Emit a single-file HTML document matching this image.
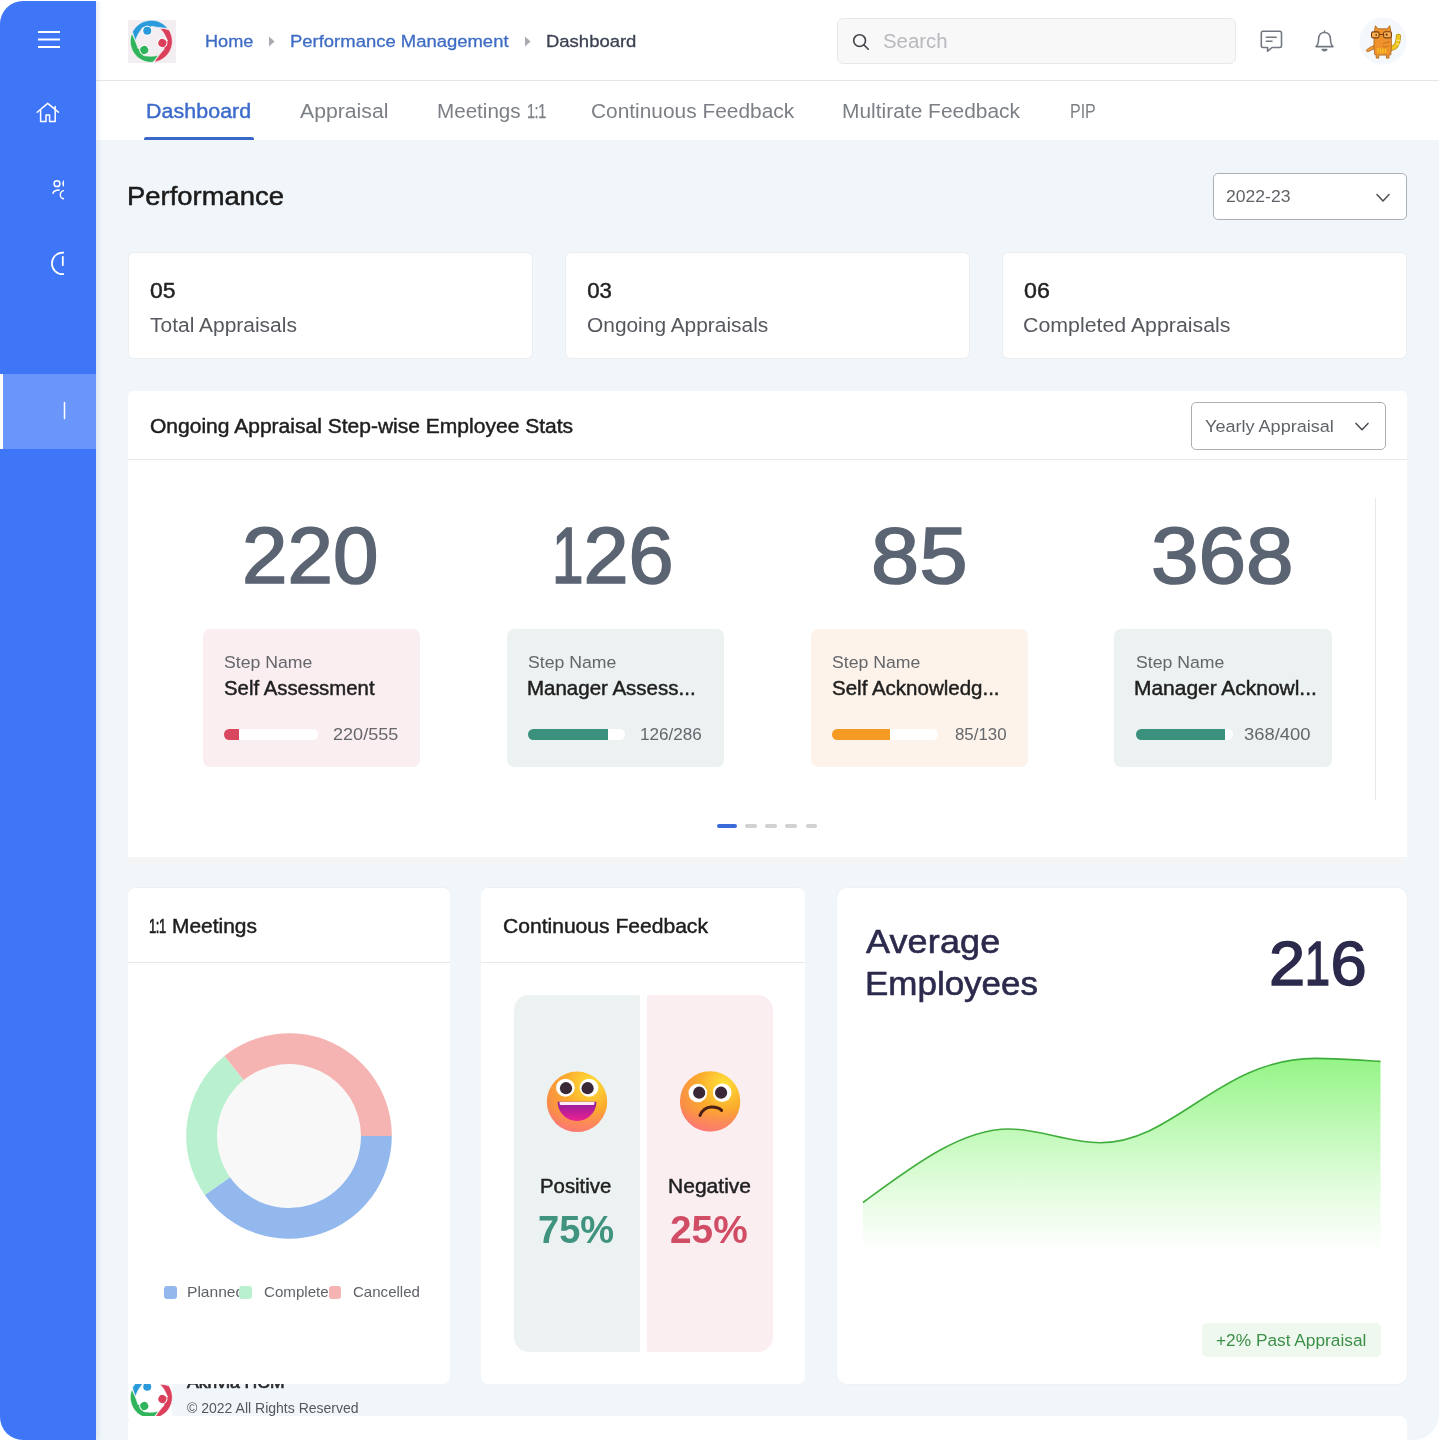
<!DOCTYPE html>
<html lang="en"><head><meta charset="utf-8"><title>Performance Dashboard</title>
<style>
html,body{margin:0;padding:0;background:#fff;}
body{width:1439px;height:1440px;overflow:hidden;position:relative;font-family:"Liberation Sans", sans-serif;}
#page{position:absolute;left:0;top:1px;width:1439px;height:1439px;overflow:hidden;border-radius:23px 0 26px 23px;background:#fff;}
#in{position:absolute;left:0;top:-1px;width:1439px;height:1440px;}
.b{position:absolute;display:block;}
.clip{position:absolute;overflow:hidden;}
.t{position:absolute;white-space:nowrap;line-height:1;transform-origin:0 0;font-family:"Liberation Sans", sans-serif;}
</style></head><body>
<div id="page"><div id="in">
<div class="b" style="left:96px;top:0px;width:1343px;height:1440px;background:#F1F6FA;"></div>
<div class="b" style="left:96px;top:0px;width:1343px;height:80px;background:#fff;"></div>
<div class="b" style="left:96px;top:80px;width:1343px;height:1px;background:#E4E6EA;"></div>
<div class="b" style="left:96px;top:81px;width:1343px;height:59px;background:#fff;"></div>
<div class="b" style="left:0px;top:0px;width:96px;height:1440px;background:#3F76F8;box-shadow:2px 0 5px rgba(90,120,180,.16);"></div>
<div class="b" style="left:0px;top:373.5px;width:96px;height:75.0px;background:#6B96F9;"></div>
<div class="b" style="left:0px;top:373.5px;width:3px;height:75.0px;background:#fff;"></div>
<svg class="b" style="left:0;top:0" width="96" height="460" viewBox="0 0 96 460" fill="none" stroke="#fff" stroke-linecap="round" stroke-linejoin="round">
<g stroke-width="1.9" stroke-linecap="butt"><path d="M38 32H60M38 39.5H60M38 47H60"/></g>
<g stroke-width="1.5"><path d="M37.2 112.2L47.7 103.4L58.4 112.2"/><path d="M40.6 110V121.5H46V115H49.6V121.5H55.2V106.4"/></g>
<clipPath id="sc"><rect x="0" y="0" width="64" height="460"/></clipPath>
<g clip-path="url(#sc)" stroke-width="1.5">
<circle cx="57" cy="183.7" r="2.9"/><circle cx="66.6" cy="183.5" r="3.6" fill="#fff"/>
<path d="M53 193.2C53.6 191 56 190 59.2 190"/><circle cx="64.4" cy="194.7" r="4.1"/>
<circle cx="62.7" cy="263.4" r="10.8" stroke-width="1.7"/><path d="M62.8 256.8V265.2" stroke-width="1.8"/>
</g>
<path d="M64.5 402.5V418.5" stroke-width="1.5"/>
</svg>
<div class="b" style="left:128px;top:20.3px;width:47.80000000000001px;height:42.7px;background:#F3EEF1;"></div>
<svg class="b" style="left:130.4px;top:20.0px" width="42.6" height="42.6" viewBox="-21 -21 42 42"><g transform="rotate(0)"><path d="M16.3,-12.7 A20.7,20.7 0 0 0 -18.5,-9.3 L-17.3,-5 L-15.5,-0.9 C-14.3,-5 -12.4,-8.4 -10.3,-11 C-9.5,-12.3 -9,-13 -8.2,-13.8 L-4,-10.3 L0.3,-14.9 C3.5,-14.3 7,-13.6 10,-13.3 C12,-13.1 14,-12.9 16.3,-12.7Z" fill="#2B9ADB" stroke="#fff" stroke-width=".5" stroke-linejoin="round"/><circle cx="-4" cy="-10.3" r="5" fill="#fff"/><circle cx="-4" cy="-10.3" r="3.95" fill="#2B9ADB"/></g><g transform="rotate(120)"><path d="M16.3,-12.7 A20.7,20.7 0 0 0 -18.5,-9.3 L-17.3,-5 L-15.5,-0.9 C-14.3,-5 -12.4,-8.4 -10.3,-11 C-9.5,-12.3 -9,-13 -8.2,-13.8 L-4,-10.3 L0.3,-14.9 C3.5,-14.3 7,-13.6 10,-13.3 C12,-13.1 14,-12.9 16.3,-12.7Z" fill="#DB3F5C" stroke="#fff" stroke-width=".5" stroke-linejoin="round"/><circle cx="-4" cy="-10.3" r="5" fill="#fff"/><circle cx="-4" cy="-10.3" r="3.95" fill="#DB3F5C"/></g><g transform="rotate(240)"><path d="M16.3,-12.7 A20.7,20.7 0 0 0 -18.5,-9.3 L-17.3,-5 L-15.5,-0.9 C-14.3,-5 -12.4,-8.4 -10.3,-11 C-9.5,-12.3 -9,-13 -8.2,-13.8 L-4,-10.3 L0.3,-14.9 C3.5,-14.3 7,-13.6 10,-13.3 C12,-13.1 14,-12.9 16.3,-12.7Z" fill="#2FB45C" stroke="#fff" stroke-width=".5" stroke-linejoin="round"/><circle cx="-4" cy="-10.3" r="5" fill="#fff"/><circle cx="-4" cy="-10.3" r="3.95" fill="#2FB45C"/></g></svg>
<div class="t" style="left:204.60px;top:32.75px;font-size:17.2px;color:#3E6CC4;letter-spacing:0.000px;-webkit-text-stroke:0.3px #3E6CC4;transform:scaleX(1.0545);">Home</div>
<svg class="b" style="left:267.5px;top:35.5px" width="8" height="11" viewBox="0 0 8 11"><path d="M1 0.5L6.6 5.5L1 10.5Z" fill="#A9ADB3"/></svg>
<div class="t" style="left:289.58px;top:32.75px;font-size:17.2px;color:#3E6CC4;letter-spacing:0.000px;-webkit-text-stroke:0.3px #3E6CC4;transform:scaleX(1.0739);">Performance Management</div>
<svg class="b" style="left:523.5px;top:35.5px" width="8" height="11" viewBox="0 0 8 11"><path d="M1 0.5L6.6 5.5L1 10.5Z" fill="#A9ADB3"/></svg>
<div class="t" style="left:546.08px;top:32.75px;font-size:17.2px;color:#3B4252;letter-spacing:0.000px;-webkit-text-stroke:0.3px #3B4252;transform:scaleX(1.0748);">Dashboard</div>
<div class="b" style="left:837px;top:17.7px;width:399px;height:46.599999999999994px;background:#F8F8F8;border:1px solid #E8E8E8;border-radius:6px;box-sizing:border-box;"></div>
<svg class="b" style="left:850px;top:31px" width="22" height="22" viewBox="850 31 22 22" fill="none" stroke="#3F4247" stroke-width="1.6" stroke-linecap="round"><circle cx="859.6" cy="40.6" r="5.9"/><path d="M864 45L868.3 49.2"/></svg>
<div class="t" style="left:882.80px;top:31.90px;font-size:19.6px;color:#B7B9BF;letter-spacing:0.000px;transform:scaleX(1.0411);">Search</div>
<svg class="b" style="left:1256px;top:27px" width="30" height="28" viewBox="1256 27 30 28" fill="none" stroke="#747881" stroke-width="1.6" stroke-linejoin="round" stroke-linecap="round"><path d="M1263 31.3H1279.8Q1281.5 31.3 1281.5 33V45.8Q1281.5 47.5 1279.8 47.5H1272L1267.6 51.2V47.5H1263Q1261.3 47.5 1261.3 45.8V33Q1261.3 31.3 1263 31.3Z"/><path d="M1266.3 37.3H1276.2M1266.3 41.3H1272"/></svg>
<svg class="b" style="left:1311px;top:27px" width="28" height="28" viewBox="1311 27 28 28" fill="none" stroke="#747881" stroke-width="1.6" stroke-linejoin="round" stroke-linecap="round"><path d="M1324.5 31V32.4M1316 46.6C1318.6 44.6 1318.4 41.5 1318.6 38.6C1318.9 34.8 1321.4 32.5 1324.5 32.5C1327.6 32.5 1330.1 34.8 1330.4 38.6C1330.6 41.5 1330.4 44.6 1333 46.6Z"/><path d="M1322.2 49.6Q1324.5 51.6 1326.8 49.6Z" fill="#747881"/></svg>
<svg class="b" style="left:1359px;top:16.5px" width="48" height="48" viewBox="1359 16.5 48 48">
<circle cx="1383" cy="40.6" r="23.6" fill="#F4F7FB"/>
<path d="M1391 47.6C1395.5 47.6 1398.4 43 1398.4 35.8" fill="none" stroke="#B48A14" stroke-width="5.2" stroke-linecap="round"/>
<path d="M1391 47.6C1395.5 47.6 1398.4 43 1398.4 35.8" fill="none" stroke="#EFC61F" stroke-width="3.8" stroke-linecap="round"/>
<path d="M1396.4 39.6L1400.4 40.2M1395.8 43L1399.4 44.2" stroke="#FAE27A" stroke-width="1.1"/>
<path d="M1374.3 45C1371.5 46 1368.5 47.6 1366.6 49.4C1366 50.6 1367.4 51.6 1368.6 51C1370.6 49.8 1372.6 48.8 1375 48Z" fill="#F09A32" stroke="#A8621C" stroke-width=".8"/>
<path d="M1374.6 29.5L1375.4 25.2L1378 28.3H1387.2L1389.7 25.2L1390.6 29.5C1391.6 37 1391.8 46 1390.8 54.3H1389V57.6H1386.4V54.6H1378.8V57.6H1376.2V54.3H1374.8C1373.6 46 1373.8 37 1374.6 29.5Z" fill="#F0922C" stroke="#A8621C" stroke-width=".8" stroke-linejoin="round"/>
<path d="M1378 52V47.5M1380.5 53V48M1383 53V48M1385.5 52.5V48" stroke="#F5C21E" stroke-width="1.4"/>
<rect x="1371.5" y="31.4" width="7.6" height="6" rx="1.6" fill="#F6B052" stroke="#7A3C10" stroke-width="1.1"/>
<rect x="1383.6" y="31.2" width="7.8" height="6.2" rx="1.6" fill="#F6B052" stroke="#7A3C10" stroke-width="1.1"/>
<path d="M1379.1 34H1383.6" stroke="#7A3C10" stroke-width="1"/>
<circle cx="1376.2" cy="34.4" r=".9" fill="#7A3C10"/><circle cx="1386.6" cy="34.2" r="1.1" fill="#7A3C10"/>
<path d="M1383 43.5C1385 42 1388 41 1390 41.5M1383 46C1385 47 1387 46.5 1388.5 45" stroke="#B86A1C" stroke-width=".8" fill="none"/>
</svg>
<div class="t" style="left:146.11px;top:101.50px;font-size:19.6px;color:#3D6BCB;letter-spacing:0.079px;-webkit-text-stroke:0.4px #3D6BCB;transform:scaleX(1.0900);">Dashboard</div>
<div class="t" style="left:300.00px;top:101.50px;font-size:19.6px;color:#7C8086;letter-spacing:0.000px;transform:scaleX(1.0820);">Appraisal</div>
<div class="t" style="left:436.75px;top:101.50px;font-size:19.6px;color:#7C8086;letter-spacing:-0.000px;transform:scaleX(1.0520);">Meetings</div>
<div class="t" style="left:526.59px;top:101.50px;font-size:19.6px;color:#7C8086;letter-spacing:-0.600px;-webkit-text-stroke:0.25px #7C8086;transform:scaleX(0.7400);">1:1</div>
<div class="t" style="left:590.63px;top:101.50px;font-size:19.6px;color:#7C8086;letter-spacing:0.000px;transform:scaleX(1.0657);">Continuous Feedback</div>
<div class="t" style="left:842.43px;top:101.50px;font-size:19.6px;color:#7C8086;letter-spacing:-0.000px;transform:scaleX(1.0686);">Multirate Feedback</div>
<div class="t" style="left:1069.58px;top:101.50px;font-size:19.6px;color:#7C8086;letter-spacing:0.000px;transform:scaleX(0.8161);">PIP</div>
<div class="b" style="left:144px;top:136.8px;width:110px;height:3.1999999999999886px;background:#3A69C8;border-radius:2px 2px 0 0;"></div>
<div class="t" style="left:127.11px;top:184.30px;font-size:25.6px;color:#1B1B1B;letter-spacing:0.000px;-webkit-text-stroke:0.5px #1B1B1B;transform:scaleX(1.0708);">Performance</div>
<div class="b" style="left:1213px;top:173px;width:193.79999999999995px;height:47px;background:#fff;border:1.2px solid #ABAEB3;border-radius:5px;box-sizing:border-box;"></div>
<div class="t" style="left:1226.30px;top:187.80px;font-size:17.2px;color:#5F6368;letter-spacing:0.000px;transform:scaleX(1.0221);">2022-23</div>
<svg class="b" style="left:1374px;top:190px" width="18" height="14" viewBox="1374 190 18 14" fill="none" stroke="#4A4D52" stroke-width="1.5" stroke-linecap="round" stroke-linejoin="round"><path d="M1377 194.6L1383 201L1389 194.6"/></svg>
<div class="b" style="left:128.5px;top:253.3px;width:403.5px;height:105.0px;background:#fff;border-radius:5px;box-shadow:0 0 0 1px #ECEDEF;"></div>
<div class="t" style="left:149.92px;top:279.60px;font-size:22.2px;color:#222;letter-spacing:0.000px;-webkit-text-stroke:0.45px #222;transform:scaleX(1.0333);">05</div>
<div class="t" style="left:149.70px;top:315.80px;font-size:19.6px;color:#55585E;letter-spacing:0.000px;transform:scaleX(1.0706);">Total Appraisals</div>
<div class="b" style="left:565.7px;top:253.3px;width:403.29999999999995px;height:105.0px;background:#fff;border-radius:5px;box-shadow:0 0 0 1px #ECEDEF;"></div>
<div class="t" style="left:587.13px;top:279.60px;font-size:22.2px;color:#222;letter-spacing:0.000px;-webkit-text-stroke:0.45px #222;">03</div>
<div class="t" style="left:586.90px;top:315.80px;font-size:19.6px;color:#55585E;letter-spacing:0.000px;transform:scaleX(1.0665);">Ongoing Appraisals</div>
<div class="b" style="left:1002.7px;top:253.3px;width:403.29999999999995px;height:105.0px;background:#fff;border-radius:5px;box-shadow:0 0 0 1px #ECEDEF;"></div>
<div class="t" style="left:1024.12px;top:279.60px;font-size:22.2px;color:#222;letter-spacing:0.000px;-webkit-text-stroke:0.45px #222;transform:scaleX(1.0456);">06</div>
<div class="t" style="left:1022.81px;top:315.80px;font-size:19.6px;color:#55585E;letter-spacing:0.000px;transform:scaleX(1.0886);">Completed Appraisals</div>
<div class="b" style="left:128px;top:391.3px;width:1279px;height:472.7px;background:#F5F5F5;border-radius:5px;"></div>
<div class="b" style="left:128px;top:391.3px;width:1279px;height:465.7px;background:#fff;border-radius:5px 5px 0 0;"></div>
<div class="b" style="left:128px;top:459px;width:1279px;height:1px;background:#E6E8EB;"></div>
<div class="t" style="left:149.72px;top:417.20px;font-size:19.6px;color:#1E1E1E;letter-spacing:0.000px;-webkit-text-stroke:0.45px #1E1E1E;transform:scaleX(1.0731);">Ongoing Appraisal Step-wise Employee Stats</div>
<div class="b" style="left:1191.2px;top:402px;width:194.79999999999995px;height:47.80000000000001px;background:#fff;border:1.2px solid #ABAEB3;border-radius:5px;box-sizing:border-box;"></div>
<div class="t" style="left:1205.00px;top:417.80px;font-size:17.2px;color:#5F6368;letter-spacing:0.000px;transform:scaleX(1.0509);">Yearly Appraisal</div>
<svg class="b" style="left:1353px;top:419px" width="18" height="14" viewBox="1353 419 18 14" fill="none" stroke="#4A4D52" stroke-width="1.5" stroke-linecap="round" stroke-linejoin="round"><path d="M1356 423.4L1362 429.8L1368 423.4"/></svg>
<div class="b" style="left:1375.3px;top:498px;width:1.0px;height:302px;background:#E6E8EB;"></div>
<div class="t" style="left:241.73px;top:515.60px;font-size:79.4px;color:#5B6472;letter-spacing:0.000px;-webkit-text-stroke:1.7px #5B6472;transform:scaleX(1.0292);">220</div>
<div class="b" style="left:202.7px;top:629.2px;width:217.7px;height:138.29999999999995px;background:#FBEEF1;border-radius:7px;"></div>
<div class="t" style="left:224.10px;top:654.30px;font-size:17.2px;color:#63666B;letter-spacing:0.000px;transform:scaleX(1.0267);">Step Name</div>
<div class="t" style="left:223.82px;top:678.60px;font-size:19.6px;color:#1F1F1F;letter-spacing:0.000px;-webkit-text-stroke:0.45px #1F1F1F;transform:scaleX(1.0394);">Self Assessment</div>
<div class="b" style="left:224px;top:729.3px;width:93.5px;height:10.300000000000068px;background:#fff;border-radius:5.2px;overflow:hidden;"><div style="position:absolute;left:0;top:0;height:100%;width:15px;background:#D9475F"></div></div>
<div class="t" style="left:333.30px;top:726.20px;font-size:17.2px;color:#64676C;letter-spacing:0.000px;transform:scaleX(1.0508);">220/555</div>
<div class="t" style="left:552.03px;top:515.60px;font-size:79.4px;color:#5B6472;letter-spacing:0.000px;-webkit-text-stroke:1.7px #5B6472;transform:scaleX(1.0203);"><span style="display:inline-block;transform:scaleX(0.7);transform-origin:0 0;margin-right:-13.24px">1</span>26</div>
<div class="b" style="left:506.5px;top:629.2px;width:217.70000000000005px;height:138.29999999999995px;background:#EBF2F1;border-radius:7px;"></div>
<div class="t" style="left:527.90px;top:654.30px;font-size:17.2px;color:#63666B;letter-spacing:0.000px;transform:scaleX(1.0267);">Step Name</div>
<div class="t" style="left:526.58px;top:678.60px;font-size:19.6px;color:#1F1F1F;letter-spacing:0.000px;-webkit-text-stroke:0.45px #1F1F1F;transform:scaleX(1.0459);">Manager Assess...</div>
<div class="b" style="left:527.7px;top:729.3px;width:97.29999999999995px;height:10.300000000000068px;background:#fff;border-radius:5.2px;overflow:hidden;"><div style="position:absolute;left:0;top:0;height:100%;width:80.29999999999995px;background:#3B917E"></div></div>
<div class="t" style="left:640.31px;top:726.20px;font-size:17.2px;color:#64676C;letter-spacing:0.000px;transform:scaleX(0.9939);">126/286</div>
<div class="t" style="left:871.08px;top:515.60px;font-size:79.4px;color:#5B6472;letter-spacing:0.232px;-webkit-text-stroke:1.7px #5B6472;transform:scaleX(1.0900);">85</div>
<div class="b" style="left:810.5px;top:629.2px;width:217.70000000000005px;height:138.29999999999995px;background:#FDF3EA;border-radius:7px;"></div>
<div class="t" style="left:831.90px;top:654.30px;font-size:17.2px;color:#63666B;letter-spacing:0.000px;transform:scaleX(1.0267);">Step Name</div>
<div class="t" style="left:831.62px;top:678.60px;font-size:19.6px;color:#1F1F1F;letter-spacing:0.000px;-webkit-text-stroke:0.45px #1F1F1F;transform:scaleX(1.0464);">Self Acknowledg...</div>
<div class="b" style="left:831.7px;top:729.3px;width:106.29999999999995px;height:10.300000000000068px;background:#fff;border-radius:5.2px;overflow:hidden;"><div style="position:absolute;left:0;top:0;height:100%;width:58.299999999999955px;background:#F59A23"></div></div>
<div class="t" style="left:954.50px;top:726.20px;font-size:17.2px;color:#64676C;letter-spacing:0.000px;transform:scaleX(0.9806);">85/130</div>
<div class="t" style="left:1151.32px;top:515.60px;font-size:79.4px;color:#5B6472;letter-spacing:0.000px;-webkit-text-stroke:1.7px #5B6472;transform:scaleX(1.0760);">368</div>
<div class="b" style="left:1114.3px;top:629.2px;width:217.70000000000005px;height:138.29999999999995px;background:#EBF2F1;border-radius:7px;"></div>
<div class="t" style="left:1135.70px;top:654.30px;font-size:17.2px;color:#63666B;letter-spacing:0.000px;transform:scaleX(1.0267);">Step Name</div>
<div class="t" style="left:1134.36px;top:678.60px;font-size:19.6px;color:#1F1F1F;letter-spacing:-0.000px;-webkit-text-stroke:0.45px #1F1F1F;transform:scaleX(1.0691);">Manager Acknowl...</div>
<div class="b" style="left:1135.7px;top:729.3px;width:97.79999999999995px;height:10.300000000000068px;background:#fff;border-radius:5.2px;overflow:hidden;"><div style="position:absolute;left:0;top:0;height:100%;width:89.59999999999991px;background:#3B917E"></div></div>
<div class="t" style="left:1243.50px;top:726.20px;font-size:17.2px;color:#64676C;letter-spacing:0.000px;transform:scaleX(1.0720);">368/400</div>
<div class="b" style="left:717px;top:823.6px;width:20px;height:4.899999999999977px;background:#3B6BDB;border-radius:2.5px;"></div>
<div class="b" style="left:745.2px;top:824.4px;width:11.799999999999955px;height:3.5px;background:#D2D2D2;border-radius:1.7px;"></div>
<div class="b" style="left:765.3px;top:824.4px;width:11.799999999999955px;height:3.5px;background:#D2D2D2;border-radius:1.7px;"></div>
<div class="b" style="left:785.4px;top:824.4px;width:11.799999999999955px;height:3.5px;background:#D2D2D2;border-radius:1.7px;"></div>
<div class="b" style="left:805.5px;top:824.4px;width:11.799999999999955px;height:3.5px;background:#D2D2D2;border-radius:1.7px;"></div>
<div class="b" style="left:128px;top:1375px;width:44px;height:44px;background:#fff;"></div>
<svg class="b" style="left:130.4px;top:1375.7px" width="42.6" height="42.6" viewBox="-21 -21 42 42"><g transform="rotate(0)"><path d="M16.3,-12.7 A20.7,20.7 0 0 0 -18.5,-9.3 L-17.3,-5 L-15.5,-0.9 C-14.3,-5 -12.4,-8.4 -10.3,-11 C-9.5,-12.3 -9,-13 -8.2,-13.8 L-4,-10.3 L0.3,-14.9 C3.5,-14.3 7,-13.6 10,-13.3 C12,-13.1 14,-12.9 16.3,-12.7Z" fill="#2B9ADB" stroke="#fff" stroke-width=".5" stroke-linejoin="round"/><circle cx="-4" cy="-10.3" r="5" fill="#fff"/><circle cx="-4" cy="-10.3" r="3.95" fill="#2B9ADB"/></g><g transform="rotate(120)"><path d="M16.3,-12.7 A20.7,20.7 0 0 0 -18.5,-9.3 L-17.3,-5 L-15.5,-0.9 C-14.3,-5 -12.4,-8.4 -10.3,-11 C-9.5,-12.3 -9,-13 -8.2,-13.8 L-4,-10.3 L0.3,-14.9 C3.5,-14.3 7,-13.6 10,-13.3 C12,-13.1 14,-12.9 16.3,-12.7Z" fill="#DB3F5C" stroke="#fff" stroke-width=".5" stroke-linejoin="round"/><circle cx="-4" cy="-10.3" r="5" fill="#fff"/><circle cx="-4" cy="-10.3" r="3.95" fill="#DB3F5C"/></g><g transform="rotate(240)"><path d="M16.3,-12.7 A20.7,20.7 0 0 0 -18.5,-9.3 L-17.3,-5 L-15.5,-0.9 C-14.3,-5 -12.4,-8.4 -10.3,-11 C-9.5,-12.3 -9,-13 -8.2,-13.8 L-4,-10.3 L0.3,-14.9 C3.5,-14.3 7,-13.6 10,-13.3 C12,-13.1 14,-12.9 16.3,-12.7Z" fill="#2FB45C" stroke="#fff" stroke-width=".5" stroke-linejoin="round"/><circle cx="-4" cy="-10.3" r="5" fill="#fff"/><circle cx="-4" cy="-10.3" r="3.95" fill="#2FB45C"/></g></svg>
<div class="t" style="left:187.35px;top:1373.60px;font-size:17.2px;color:#2A2A2A;letter-spacing:0.000px;-webkit-text-stroke:0.7px #2A2A2A;transform:scaleX(1.0226);">Akrivia HCM</div>
<div class="t" style="left:186.70px;top:1401.20px;font-size:14.6px;color:#55585D;letter-spacing:0.000px;transform:scaleX(0.9606);">© 2022 All Rights Reserved</div>
<div class="b" style="left:128px;top:887.7px;width:322px;height:496.70000000000005px;background:#fff;border-radius:7px;box-shadow:0 -1px 0 0 #F0F0F0;"></div>
<div class="b" style="left:128px;top:961.7px;width:322px;height:1.0px;background:#E6E8EB;"></div>
<div class="t" style="left:149.29px;top:916.50px;font-size:19.6px;color:#1E1E1E;letter-spacing:-0.600px;-webkit-text-stroke:0.7px #1E1E1E;transform:scaleX(0.6600);">1:1</div>
<div class="t" style="left:171.66px;top:916.50px;font-size:19.6px;color:#1E1E1E;letter-spacing:0.000px;-webkit-text-stroke:0.45px #1E1E1E;transform:scaleX(1.0679);">Meetings</div>
<svg class="b" style="left:180px;top:1028px" width="220" height="220" viewBox="180 1028 220 220"><circle cx="289" cy="1136" r="73" fill="#F8F8F8"/><path d="M391.80,1136.00 A102.8,102.8 0 0 1 204.79,1194.96 L230.02,1177.30 A72,72 0 0 0 361.00,1136.00Z" fill="#92B8EE"/><path d="M204.79,1194.96 A102.8,102.8 0 0 1 224.31,1056.11 L243.69,1080.05 A72,72 0 0 0 230.02,1177.30Z" fill="#B9F0CF"/><path d="M224.31,1056.11 A102.8,102.8 0 0 1 391.80,1136.00 L361.00,1136.00 A72,72 0 0 0 243.69,1080.05Z" fill="#F5B3B1"/></svg>
<div class="b" style="left:163.7px;top:1286px;width:12.900000000000006px;height:12.599999999999909px;background:#92B8EE;border-radius:3px;"></div>
<div class="clip" style="left:180px;top:1280px;width:59.40px;height:26.00px"><div class="t" style="left:6.73px;top:5.40px;font-size:14.6px;color:#5F6368;letter-spacing:-0.000px;transform:scaleX(1.0679);">Planned</div></div>
<div class="b" style="left:239.4px;top:1286px;width:12.900000000000006px;height:12.599999999999909px;background:#B9F0CF;border-radius:3px;"></div>
<div class="clip" style="left:255px;top:1280px;width:73.50px;height:26.00px"><div class="t" style="left:8.50px;top:5.40px;font-size:14.6px;color:#5F6368;letter-spacing:0.000px;transform:scaleX(1.0347);">Completed</div></div>
<div class="b" style="left:328.5px;top:1286px;width:12.899999999999977px;height:12.599999999999909px;background:#F5B3B1;border-radius:3px;"></div>
<div class="t" style="left:353.00px;top:1285.40px;font-size:14.6px;color:#5F6368;letter-spacing:0.000px;transform:scaleX(1.0311);">Cancelled</div>
<div class="b" style="left:481.3px;top:887.7px;width:323.7px;height:496.70000000000005px;background:#fff;border-radius:7px;box-shadow:0 -1px 0 0 #F0F0F0;"></div>
<div class="b" style="left:481.3px;top:961.7px;width:323.7px;height:1.0px;background:#E6E8EB;"></div>
<div class="t" style="left:502.95px;top:916.50px;font-size:19.6px;color:#1E1E1E;letter-spacing:0.000px;-webkit-text-stroke:0.45px #1E1E1E;transform:scaleX(1.0750);">Continuous Feedback</div>
<div class="b" style="left:514.3px;top:994.5px;width:125.5px;height:357.20000000000005px;background:#EBF2F1;border-radius:15px 2px 2px 15px;"></div>
<div class="b" style="left:647.3px;top:994.5px;width:125.5px;height:357.20000000000005px;background:#FBEEF1;border-radius:2px 15px 15px 2px;"></div>
<svg class="b" style="left:545px;top:1069px" width="64" height="66" viewBox="545 1069 64 66">
<defs><radialGradient id="fg" cx="0.72" cy="0.22" r="0.95"><stop offset="0" stop-color="#FFE23A"/><stop offset=".45" stop-color="#FBAA2C"/><stop offset=".8" stop-color="#F98E48"/><stop offset="1" stop-color="#FF7480"/></radialGradient>
<linearGradient id="pk" x1="0" y1="0" x2="0" y2="1"><stop offset=".62" stop-color="#FF6F8A" stop-opacity="0"/><stop offset="1" stop-color="#FF6F8A" stop-opacity=".55"/></linearGradient>
<linearGradient id="mg" x1="0" y1="0" x2="0" y2="1"><stop offset="0" stop-color="#8E1C9E"/><stop offset="1" stop-color="#EC2191"/></linearGradient>
<clipPath id="mc"><path d="M557.6 1101.8H596.4C596.4 1112.6 587.8 1120.9 577 1120.9C566.2 1120.9 557.6 1112.6 557.6 1101.8Z"/></clipPath></defs>
<circle cx="577" cy="1101.8" r="30.2" fill="url(#fg)"/><circle cx="577" cy="1101.8" r="30.2" fill="url(#pk)"/>
<ellipse cx="565.4" cy="1087.7" rx="9.4" ry="9" fill="#fff"/><ellipse cx="589" cy="1087.7" rx="9.4" ry="9" fill="#fff"/>
<circle cx="566" cy="1088.2" r="6.1" fill="#3A2836"/><circle cx="587.6" cy="1088.2" r="6.1" fill="#3A2836"/>
<path d="M557.6 1101.8H596.4C596.4 1112.6 587.8 1120.9 577 1120.9C566.2 1120.9 557.6 1112.6 557.6 1101.8Z" fill="url(#mg)"/>
<rect x="559.6" y="1101.6" width="34.8" height="3.4" rx="1" fill="#FCEAF8" clip-path="url(#mc)"/>
</svg>
<svg class="b" style="left:678px;top:1069px" width="64" height="66" viewBox="678 1069 64 66">
<circle cx="710.1" cy="1101.4" r="30.2" fill="url(#fg)"/><circle cx="710.1" cy="1101.4" r="30.2" fill="url(#pk)"/>
<circle cx="697.8" cy="1093" r="9.3" fill="#fff"/><circle cx="722.2" cy="1092.7" r="9.3" fill="#fff"/>
<circle cx="699.2" cy="1092.7" r="6.1" fill="#3A2836"/><circle cx="721.1" cy="1092.7" r="6.1" fill="#3A2836"/>
<path d="M700 1115.4C702.4 1110 706.5 1107.2 711.2 1107.1C715.6 1107 719.4 1108.2 721.6 1110.4" fill="none" stroke="#4A1E14" stroke-width="3" stroke-linecap="round"/>
</svg>
<div class="t" style="left:539.99px;top:1177.20px;font-size:19.6px;color:#1F1F1F;letter-spacing:0.000px;-webkit-text-stroke:0.45px #1F1F1F;transform:scaleX(1.0390);">Positive</div>
<div class="t" style="left:667.65px;top:1177.20px;font-size:19.6px;color:#1F1F1F;letter-spacing:0.000px;-webkit-text-stroke:0.45px #1F1F1F;transform:scaleX(1.0735);">Negative</div>
<div class="t" style="left:538.04px;top:1209.80px;font-size:39.5px;color:#3F937F;letter-spacing:0.000px;font-weight:700;transform:scaleX(0.9636);">75%</div>
<div class="t" style="left:670.42px;top:1209.80px;font-size:39.5px;color:#D14D65;letter-spacing:0.000px;font-weight:700;transform:scaleX(0.9829);">25%</div>
<div class="b" style="left:836.7px;top:888px;width:569.8999999999999px;height:496.20000000000005px;background:#fff;border-radius:10px;box-shadow:0 0 3px rgba(40,60,90,.05);"></div>
<div class="t" style="left:865.50px;top:924.70px;font-size:33px;color:#2B2A4C;letter-spacing:0.130px;-webkit-text-stroke:0.6px #2B2A4C;transform:scaleX(1.0900);">Average</div>
<div class="t" style="left:864.98px;top:966.80px;font-size:33px;color:#2B2A4C;letter-spacing:0.000px;-webkit-text-stroke:0.6px #2B2A4C;transform:scaleX(1.0595);">Employees</div>
<div class="t" style="left:1268.88px;top:930.90px;font-size:63.6px;color:#2B2A4C;letter-spacing:0.000px;-webkit-text-stroke:1.5px #2B2A4C;transform:scaleX(1.0230);">2<span style="display:inline-block;transform:scaleX(0.7);transform-origin:0 0;margin-right:-10.61px">1</span>6</div>
<svg class="b" style="left:855px;top:1050px" width="535" height="215" viewBox="855 1050 535 215">
<defs><linearGradient id="cg" gradientUnits="userSpaceOnUse" x1="0" y1="1058" x2="0" y2="1254"><stop offset="0" stop-color="#94F486"/><stop offset=".35" stop-color="#BFF9B6"/><stop offset=".7" stop-color="#E6FDE2"/><stop offset="1" stop-color="#fff"/></linearGradient></defs>
<path d="M863,1202.5 C910,1168 960,1129 1009,1129 C1040,1129 1068,1142.7 1100,1142.7 C1175,1142.7 1220,1058.4 1315,1058.4 C1340,1058.4 1360,1060 1380.5,1061.4 L1380.5,1254 L863,1254Z" fill="url(#cg)"/>
<path d="M863,1202.5 C910,1168 960,1129 1009,1129 C1040,1129 1068,1142.7 1100,1142.7 C1175,1142.7 1220,1058.4 1315,1058.4 C1340,1058.4 1360,1060 1380.5,1061.4" fill="none" stroke="#3FAE3C" stroke-width="1.6"/>
</svg>
<div class="b" style="left:1202px;top:1323px;width:178.5px;height:34.40000000000009px;background:#EFF8EF;border-radius:5px;"></div>
<div class="t" style="left:1215.80px;top:1332.20px;font-size:17.2px;color:#3C8F48;letter-spacing:0.000px;transform:scaleX(1.0056);">+2% Past Appraisal</div>
<div class="b" style="left:128px;top:1416.3px;width:1279px;height:28.700000000000045px;background:#fff;border-radius:8px 8px 0 0;"></div>
</div></div>
</body></html>
